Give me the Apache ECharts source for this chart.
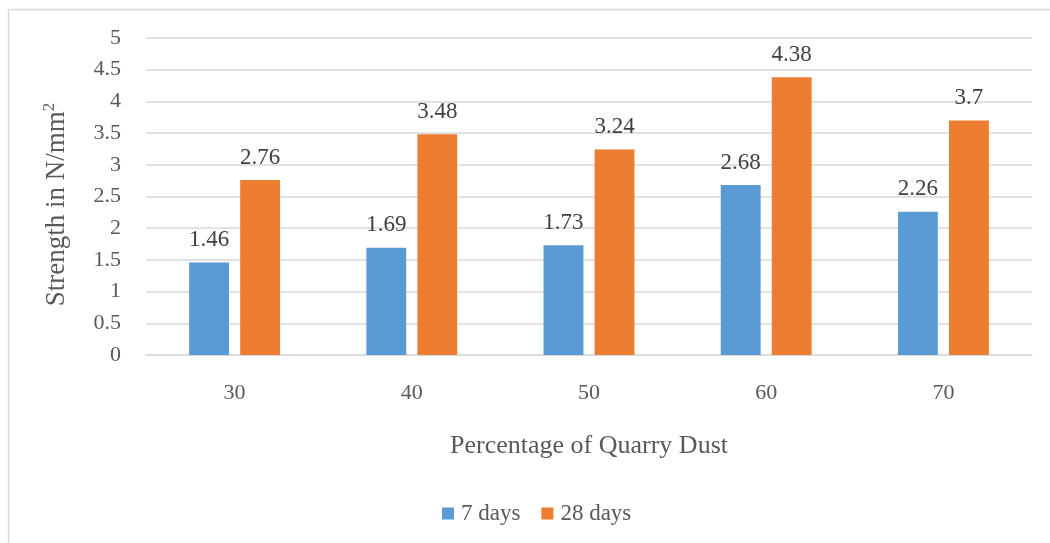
<!DOCTYPE html>
<html>
<head>
<meta charset="utf-8">
<script src="https://cdn.jsdelivr.net/npm/echarts@6/dist/echarts.min.js"></script>
<style>
  html, body { margin: 0; padding: 0; background: #fff; }
  #chart { width: 1050px; height: 543px; }
</style>
</head>
<body>
<div id="chart"></div>
<script>
// Compressive strength by quarry dust replacement
const categories = ['30', '40', '50', '60', '70'];
const days7 = [1.46, 1.69, 1.73, 2.68, 2.26];
const days28 = [2.76, 3.48, 3.24, 4.38, 3.7];
const yTicks = [0, 0.5, 1, 1.5, 2, 2.5, 3, 3.5, 4, 4.5, 5];

const FONT = '"Liberation Serif", "Times New Roman", serif';
const chart = echarts.init(document.getElementById('chart'));

const labelStyle = {
  show: true,
  position: 'top',
  distance: 11,
  fontFamily: FONT,
  fontSize: 23,
  color: '#404040'
};

chart.setOption({
  animation: false,
  textStyle: { fontFamily: FONT },
  graphic: [{
    type: 'rect',
    shape: { x: 8.5, y: 9.5, width: 1060, height: 560 },
    style: { fill: 'none', stroke: '#D9D9D9', lineWidth: 1.5 },
    silent: true
  }],
  grid: { left: 146, right: 18, top: 38, bottom: 188 },
  legend: {
    top: 497,
    left: 437,
    itemWidth: 12,
    itemHeight: 12,
    itemGap: 21,
    icon: 'rect',
    textStyle: { fontFamily: FONT, fontSize: 23, color: '#595959', padding: [0, 0, 0, 2] },
    data: ['7 days', '28 days']
  },
  xAxis: {
    type: 'category',
    data: categories,
    name: 'Percentage of Quarry Dust',
    nameLocation: 'middle',
    nameGap: 78,
    nameTextStyle: { fontFamily: FONT, fontSize: 26, color: '#595959' },
    axisLine: { show: true, lineStyle: { color: '#D9D9D9', width: 1.5 } },
    axisTick: { show: false },
    axisLabel: { fontFamily: FONT, fontSize: 22, color: '#595959', margin: 27 }
  },
  yAxis: {
    type: 'value',
    min: 0,
    max: 5,
    interval: 0.5,
    name: 'Strength in N/mm{sup|2}',
    nameLocation: 'middle',
    nameGap: 74,
    nameTextStyle: {
      fontFamily: FONT, fontSize: 27, color: '#595959',
      padding: [0, 16, 0, 0],
      rich: {
        sup: { fontFamily: FONT, fontSize: 17, color: '#595959', padding: [0, 0, 14, 0] }
      }
    },
    axisLine: { show: false },
    axisTick: { show: false },
    splitLine: { lineStyle: { color: '#D9D9D9', width: 1.5 } },
    axisLabel: {
      fontFamily: FONT, fontSize: 22, color: '#595959', margin: 25,
      formatter: v => yTicks.includes(v) ? String(v) : ''
    }
  },
  series: [
    {
      name: '7 days',
      type: 'bar',
      data: days7,
      barWidth: '22.5%',
      barGap: '28%',
      itemStyle: { color: '#5B9BD5' },
      label: labelStyle
    },
    {
      name: '28 days',
      type: 'bar',
      data: days28,
      barWidth: '22.5%',
      barGap: '28%',
      itemStyle: { color: '#ED7D31' },
      label: labelStyle
    }
  ]
});
</script>
</body>
</html>
